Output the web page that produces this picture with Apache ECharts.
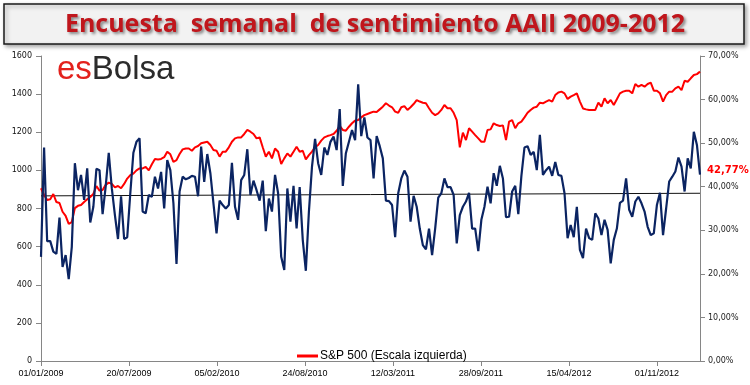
<!DOCTYPE html>
<html>
<head>
<meta charset="utf-8">
<script src="https://cdn.jsdelivr.net/npm/echarts@6/dist/echarts.min.js"></script>
<style>
html,body{margin:0;padding:0;background:#fff;}
#c{width:750px;height:385px;}
</style>
</head>
<body>
<div id="c"></div>
<script>
// ---- data ----
const startDate = '2009-01-01';          // first weekly observation
const weekStepDays = 7;
const xTickDays = [0, 200, 400, 600, 800, 1000, 1200, 1400];
const sp500 = [
906,871,845,848,876,834,829,783,761,719,729,802,814,818,834,848,860,877,918,894,
897,924,936,929,911,918,906,929,957,975,983,1000,1010,1010,1018,1000,1032,1060,1057,1060,
1069,1098,1084,1045,1054,1086,1110,1115,1115,1103,1121,1128,1142,1146,
1150,1133,1107,1103,1072,1098,1098,1121,1150,1168,1173,1173,1191,1212,1203,1191,1168,1173,1121,1072,
1098,1063,1115,1098,1033,1063,1089,1072,1098,1124,1098,1103,1058,1080,1098,1121,1133,1156,1173,1180,
1185,1191,1208,1233,1212,1208,1229,1247,1261,1264,1278,1290,1296,
1302,1308,1306,1320,1334,1352,1340,1331,1308,1302,1331,1337,1317,1331,1348,1369,1361,1355,1352,1326,
1302,1290,1299,1317,1343,1326,1326,1302,1264,1121,1198,1159,1221,1203,1185,1168,1150,1150,1212,1215,
1247,1238,1233,1236,1159,1256,1264,1221,1247,1256,1278,1302,1317,1329,
1334,1355,1352,1361,1369,1361,1395,1409,1413,1404,1374,1387,1395,1404,1361,1325,1320,1317,1317,1317,
1355,1334,1378,1352,1369,1343,1373,1404,1413,1418,1418,1404,1453,1439,1448,1439,1453,1460,1418,1418,
1404,1361,1395,1413,1413,1430,1439,1421,1470,1465,1483,1500,1505,1518
];
const aaiiBullish = [
23.9,49.0,27.5,27.5,25.1,24.6,32.9,21.6,24.3,18.8,26.2,45.4,39.2,42.7,37.0,44.2,31.8,35.4,44.1,43.8,
33.7,40.0,47.8,39.6,33.5,28.0,37.8,28.0,28.4,38.5,47.8,50.3,51.1,34.3,33.9,38.1,37.7,42.3,39.6,43.4,
35.0,46.1,43.8,36.2,22.3,38.9,42.3,41.7,42.0,42.5,42.3,37.8,49.2,41.1,
47.5,43.1,36.2,29.3,36.8,35.8,35.0,35.8,45.5,35.4,32.4,41.5,42.7,48.6,38.1,41.4,39.2,36.8,41.4,29.8,
37.3,34.3,42.7,38.5,23.9,20.9,39.6,32.0,40.2,30.4,39.9,27.8,20.7,34.3,44.6,51.0,45.4,42.7,49.0,47.3,
50.3,51.5,48.4,57.8,40.2,47.7,50.3,53.0,50.7,63.5,51.6,55.9,51.3,
50.7,41.9,51.6,49.3,46.5,36.8,36.7,35.8,28.4,38.5,41.9,43.7,42.3,32.0,37.9,35.4,30.4,26.6,25.6,30.4,
24.3,30.4,37.5,38.5,41.9,39.9,39.9,38.1,27.0,33.5,35.4,36.6,38.6,30.4,30.4,25.2,32.4,35.4,40.0,36.2,
43.1,40.2,44.8,41.9,33.0,33.1,38.9,40.2,33.7,42.5,49.0,49.3,47.3,48.0,
43.8,51.9,42.7,43.8,44.6,42.5,45.7,42.7,42.5,38.5,28.2,31.2,28.4,35.4,25.5,23.6,30.4,28.2,27.8,33.9,
32.7,28.9,32.4,30.1,22.4,27.8,30.4,36.3,36.8,41.9,34.7,33.1,36.6,37.7,36.2,34.3,30.8,28.9,29.3,35.8,
38.6,28.9,35.0,41.2,42.3,43.5,46.7,44.6,38.9,46.5,44.2,52.6,49.6,42.77
];
const trendLine = [37.9, 38.5]; // start / end level (%) of the horizontal reference line
const leftTicks = [0, 1600, 200];
const rightTicks = [0, 70, 10];

// ---- build ----
const t0 = Date.UTC(2009, 0, 1);
function dayLabel(d) {
  const dt = new Date(t0 + d * 86400000);
  const p = n => (n < 10 ? '0' : '') + n;
  return p(dt.getUTCDate()) + '/' + p(dt.getUTCMonth() + 1) + '/' + dt.getUTCFullYear();
}
const lastDay = (sp500.length - 1) * weekStepDays;
const spData = sp500.map((v, i) => [i * weekStepDays, v]);
const aaData = aaiiBullish.map((v, i) => [i * weekStepDays, v]);
const trendData = [[0, trendLine[0]], [lastDay, trendLine[1]]];
const pct = v => v.toFixed(2).replace('.', ',') + '%';

const chart = echarts.init(document.getElementById('c'), null, {renderer: 'canvas'});
chart.setOption({
  animation: false,
  backgroundColor: '#ffffff',
  title: {
    text: 'Encuesta  semanal  de sentimiento AAII 2009-2012',
    left: 'center',
    top: 7,
    textStyle: {
      fontFamily: '"Liberation Sans Narrow", "Open Sans", sans-serif',
      fontWeight: 'bold',
      fontSize: 25,
      color: '#c0161c',
      textShadowColor: 'rgba(0,0,0,0.45)',
      textShadowBlur: 3,
      textShadowOffsetX: 2,
      textShadowOffsetY: 2
    }
  },
  graphic: [
    {
      type: 'rect', z: -1,
      shape: {x: 4, y: 4, width: 740, height: 40},
      style: {fill: '#f2f2f2', stroke: '#1a1a1a', lineWidth: 1.5,
        shadowColor: 'rgba(0,0,0,0.35)', shadowBlur: 4, shadowOffsetX: 2, shadowOffsetY: 2}
    },
    {
      type: 'text', left: 57, top: 53, z: 10,
      style: {
        text: '{a|es}{b|Bolsa}',
        rich: {
          a: {fill: '#e3211c', fontSize: 33, fontFamily: '"Liberation Sans", Arial, sans-serif'},
          b: {fill: '#2b2b2b', fontSize: 33, fontFamily: '"Liberation Sans", Arial, sans-serif'}
        }
      }
    }
  ],
  legend: {
    data: [{name: 'S&P 500 (Escala izquierda)', icon: 'rect'}],
    left: 292, top: 345,
    itemWidth: 21, itemHeight: 3, itemGap: 10,
    textStyle: {fontFamily: '"Liberation Sans", sans-serif', fontSize: 12, color: '#000', padding: [0,0,0,-3]}
  },
  grid: {left: 41, right: 50, top: 56, bottom: 24, containLabel: false},
  xAxis: {
    type: 'value', min: 0, max: lastDay, interval: 200,
    axisLine: {show: true, lineStyle: {color: '#868686', width: 1}},
    axisTick: {show: true, length: 5, lineStyle: {color: '#868686'}},
    splitLine: {show: false},
    axisLabel: {
      showMaxLabel: false, margin: 8,
      formatter: v => (xTickDays.indexOf(v) >= 0 ? dayLabel(v) : ''),
      fontFamily: '"Liberation Sans", sans-serif', fontSize: 9, color: '#000'
    }
  },
  yAxis: [
    {
      type: 'value', min: leftTicks[0], max: leftTicks[1], interval: leftTicks[2],
      axisLine: {show: true, lineStyle: {color: '#868686'}},
      axisTick: {show: true, length: 5, lineStyle: {color: '#868686'}},
      splitLine: {show: false},
      axisLabel: {formatter: v => String(v), fontFamily: '"DejaVu Sans", sans-serif', fontSize: 8, color: '#111', margin: 9}
    },
    {
      type: 'value', position: 'right', min: rightTicks[0], max: rightTicks[1], interval: rightTicks[2],
      axisLine: {show: true, lineStyle: {color: '#868686'}},
      axisTick: {show: true, length: 5, lineStyle: {color: '#868686'}},
      splitLine: {show: false},
      axisLabel: {formatter: pct, fontFamily: '"DejaVu Sans", sans-serif', fontSize: 8, color: '#222', margin: 8}
    }
  ],
  series: [
    {
      name: 'S&P 500 (Escala izquierda)', type: 'line', yAxisIndex: 0,
      data: spData, showSymbol: false, symbol: 'none',
      lineStyle: {color: '#ff0000', width: 2}, itemStyle: {color: '#ff0000'}, z: 2
    },
    {
      name: 'trend', type: 'line', yAxisIndex: 1, data: trendData,
      showSymbol: false, symbol: 'none', lineStyle: {color: '#111', width: 1}, z: 1, silent: true
    },
    {
      name: 'AAII', type: 'line', yAxisIndex: 1,
      data: aaData, showSymbol: false, symbol: 'none',
      lineStyle: {color: '#0b2462', width: 2.2}, itemStyle: {color: '#0b2462'}, z: 3,
      endLabel: {
        show: true, distance: 7, offset: [0, -4],
        formatter: p => pct(p.value[1]),
        color: '#ff0000', fontWeight: 'bold', fontSize: 10, fontFamily: '"DejaVu Sans", sans-serif'
      }
    }
  ]
});
</script>
</body>
</html>
